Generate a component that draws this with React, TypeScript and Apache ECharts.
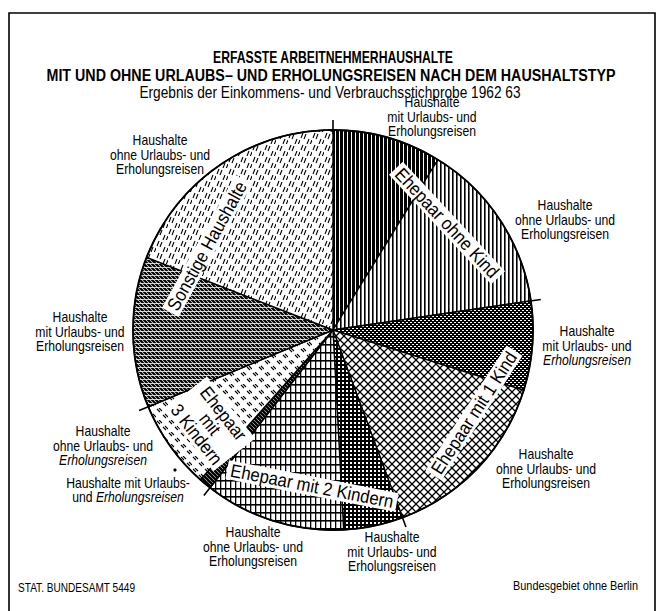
import React, { useEffect, useRef } from "react";
import * as echarts from "echarts";

// ---- data (shares in percent, clockwise from 12 o'clock) ----
const groups = [
  "Ehepaar ohne Kind",
  "Ehepaar mit 1 Kind",
  "Ehepaar mit 2 Kindern",
  "Ehepaar mit 3 Kindern",
  "Sonstige Haushalte",
];
const travel = ["mit Urlaubs- und Erholungsreisen", "ohne Urlaubs- und Erholungsreisen"];
const sliceGroup = [0, 0, 1, 1, 2, 2, 3, 3, 4, 4];
const sliceTravel = [0, 1, 0, 1, 0, 1, 0, 1, 0, 1];
const sliceValues = [8.8, 13.9, 7.2, 14.5, 4.8, 11.4, 1.0, 7.2, 12.2, 19.1];

const titleLines = [
  "ERFASSTE ARBEITNEHMERHAUSHALTE",
  "MIT UND OHNE URLAUBS\u2013 UND ERHOLUNGSREISEN NACH DEM HAUSHALTSTYP",
];
const subtitle = "Ergebnis der Einkommens- und Verbrauchsstichprobe 1962 63";
const sourceNote = "STAT. BUNDESAMT 5449";
const areaNote = "Bundesgebiet ohne Berlin";

// outer label texts per slice
const outerLabels = [
  "{n|Haushalte}\n{n|mit Urlaubs- und}\n{n|Erholungsreisen}",
  "{n|Haushalte}\n{n|ohne Urlaubs- und}\n{n|Erholungsreisen}",
  "{n|Haushalte}\n{n|mit Urlaubs- und}\n{i|Erholungsreisen}",
  "{n|Haushalte}\n{n|ohne Urlaubs- und}\n{n|Erholungsreisen}",
  "{n|Haushalte}\n{n|mit Urlaubs- und}\n{n|Erholungsreisen}",
  "{n|Haushalte}\n{n|ohne Urlaubs- und}\n{n|Erholungsreisen}",
  "{n|Haushalte mit Urlaubs-}\n{n|und }{i|Erholungsreisen}",
  "{n|Haushalte}\n{n|ohne Urlaubs- und}\n{i|Erholungsreisen}",
  "{n|Haushalte}\n{n|mit Urlaubs- und}\n{n|Erholungsreisen}",
  "{n|Haushalte}\n{n|ohne Urlaubs- und}\n{n|Erholungsreisen}",
];

// ---- layout ----
const CX = 333;
const CY = 330;
const R = 200;
const outerLabelPos: [number, number][] = [
  [432, 117], [565, 220], [587, 346], [546, 469], [392, 552],
  [253, 547], [128, 490], [103, 446], [80, 332], [160, 155],
];
// in-pie group captions: x, y, rotation(deg, ccw)
const captionPos: [number, number, number][] = [
  [447, 223, -47],
  [474, 413, 57],
  [312, 486, -11],
  [210, 424, -52],
  [207, 246, 61],
];
const captionText = [
  "Ehepaar ohne Kind",
  "Ehepaar mit 1 Kind",
  "Ehepaar mit 2 Kindern",
  "Ehepaar\nmit\n3 Kindern",
  "Sonstige Haushalte",
];

const FONT = '"Liberation Sans", Arial, sans-serif';
const NARROW = 0.84;

type Ctx = CanvasRenderingContext2D;
function makeTile(w: number, h: number, draw: (c: Ctx) => void) {
  const cv = document.createElement("canvas");
  cv.width = w;
  cv.height = h;
  const c = cv.getContext("2d") as Ctx;
  c.fillStyle = "#fff";
  c.fillRect(0, 0, w, h);
  c.fillStyle = "#000";
  c.strokeStyle = "#000";
  draw(c);
  return { image: cv, repeat: "repeat", imageWidth: w, imageHeight: h } as any;
}
function diag(c: Ctx, s: number, lw: number, dir: 1 | -1) {
  c.lineWidth = lw;
  c.beginPath();
  if (dir === 1) {
    for (const k of [-1, 0, 1]) {
      c.moveTo(-1, -1 + k * s);
      c.lineTo(s + 1, s + 1 + k * s);
    }
  } else {
    for (const k of [0, 1, 2]) {
      c.moveTo(-1, 1 + k * s);
      c.lineTo(s + 1, -s - 1 + k * s);
    }
  }
  c.stroke();
}
function seg(c: Ctx, pts: number[][], lw: number) {
  c.lineWidth = lw;
  c.beginPath();
  for (const p of pts) {
    c.moveTo(p[0], p[1]);
    c.lineTo(p[2], p[3]);
  }
  c.stroke();
}

function buildPatterns() {
  return [
    // Ehepaar ohne Kind, mit Reisen: dense dark vertical
    makeTile(4, 4, (c) => c.fillRect(0, 0, 3, 4)),
    // Ehepaar ohne Kind, ohne Reisen: vertical lines
    makeTile(4, 4, (c) => {
      c.fillRect(0, 0, 1, 4);
      c.globalAlpha = 0.6;
      c.fillRect(1, 0, 1, 4);
    }),
    // 1 Kind mit: dark crosshatch
    makeTile(4, 4, (c) => {
      c.fillRect(0, 0, 4, 4);
      c.fillStyle = "#fff";
      c.fillRect(0, 0, 2, 1);
      c.fillRect(2, 2, 2, 1);
    }),
    // 1 Kind ohne: light diagonal grid
    makeTile(8, 8, (c) => {
      diag(c, 8, 1.3, 1);
      diag(c, 8, 1.3, -1);
    }),
    // 2 Kinder mit: dense grid
    makeTile(4, 4, (c) => {
      c.fillRect(0, 0, 2, 4);
      c.fillRect(0, 0, 4, 2);
    }),
    // 2 Kinder ohne: grid
    makeTile(5, 8, (c) => {
      c.fillRect(0, 0, 1.3, 8);
      c.fillRect(0, 0, 5, 1.6);
    }),
    // 3 Kinder mit: heavy bars
    makeTile(4, 4, (c) => diag(c, 4, 2.3, 1)),
    // 3 Kinder ohne: short dashes
    makeTile(12, 12, (c) =>
      seg(c, [
        [1, 1, 4, 4],
        [3, 0, 6, 3],
        [7, 7, 10, 10],
        [9, 6, 12, 9],
      ], 1.1)
    ),
    // Sonstige mit: dense diagonal with breaks
    makeTile(4, 4, (c) => {
      diag(c, 4, 2.2, 1);
      c.fillStyle = "#fff";
      c.fillRect(0, 3, 4, 0.8);
    }),
    // Sonstige ohne: scattered dashes
    makeTile(12, 12, (c) =>
      seg(c, [
        [1, 6, 3, 1],
        [4, 7, 6, 2],
        [7, 12, 9, 7],
        [10, 13, 12, 8],
      ], 1.1)
    ),
  ];
}

function narrowText(text: string, x: number, y: number, size: number, extra: any = {}, sx = NARROW) {
  return {
    type: "text",
    z: 60,
    x,
    y,
    scaleX: sx,
    style: {
      text,
      fill: "#000",
      fontFamily: FONT,
      fontSize: size,
      align: "center",
      verticalAlign: "middle",
      ...extra,
    },
  };
}

export default function App() {
  const ref = useRef<HTMLDivElement>(null);
  useEffect(() => {
    const el = ref.current as HTMLDivElement;
    const chart = echarts.init(el, null, { renderer: "svg" });
    const patterns = buildPatterns();
    const total = sliceValues.reduce((a, b) => a + b, 0);

    // group boundary angles (deg, clockwise from top), derived from the data
    const bounds: number[] = [0];
    let acc = 0;
    sliceValues.forEach((v, i) => {
      acc += v;
      if (i < sliceValues.length - 1 && sliceGroup[i + 1] !== sliceGroup[i]) {
        bounds.push((acc / total) * 360);
      }
    });
    const pt = (deg: number, r: number) => [
      CX + r * Math.sin((deg * Math.PI) / 180),
      CY - r * Math.cos((deg * Math.PI) / 180),
    ];
    const ticks = bounds.map((d) => {
      const a = pt(d, R - 4);
      const b = pt(d, R + 10);
      return {
        type: "line",
        z: 50,
        shape: { x1: a[0], y1: a[1], x2: b[0], y2: b[1] },
        style: { stroke: "#000", lineWidth: 1.6 },
      };
    });

    const outer = outerLabels.map((t, i) =>
      narrowText(t, outerLabelPos[i][0], outerLabelPos[i][1], 14.5, {
        lineHeight: 14.5,
        rich: {
          n: { fontFamily: FONT, fontSize: 14.5, lineHeight: 14.5, fill: "#000" },
          i: { fontFamily: FONT, fontSize: 14.5, lineHeight: 14.5, fontStyle: "italic", fill: "#000" },
        },
      })
    );

    const captions = captionText.map((t, i) => ({
      type: "text",
      z: 70,
      x: captionPos[i][0],
      y: captionPos[i][1],
      scaleX: 0.9,
      rotation: (captionPos[i][2] * Math.PI) / 180,
      style: {
        text: t,
        align: "center",
        verticalAlign: "middle",
        fill: "#000",
        fontFamily: FONT,
        fontSize: 18.5,
        lineHeight: 17,
        backgroundColor: "#fff",
        padding: [2, 4, 0, 4],
      },
    }));

    const option: any = {
      animation: false,
      backgroundColor: "#fff",
      series: [
        {
          type: "pie",
          center: [CX, CY],
          radius: [0, R],
          startAngle: 90,
          clockwise: true,
          silent: true,
          label: { show: false },
          labelLine: { show: false },
          emphasis: { disabled: true },
          itemStyle: { borderColor: "#000", borderWidth: 1.4 },
          data: sliceValues.map((v, i) => ({
            name: groups[sliceGroup[i]] + " \u2013 " + travel[sliceTravel[i]],
            value: v,
            itemStyle: { color: patterns[i] },
          })),
        },
      ],
      graphic: [
        {
          type: "polyline",
          z: 40,
          shape: { points: [[9, 611], [9, 13], [655, 13], [655, 611]] },
          style: { stroke: "#000", lineWidth: 1.6, fill: "none" },
        },
        {
          type: "circle",
          z: 45,
          shape: { cx: CX, cy: CY, r: R },
          style: { stroke: "#000", lineWidth: 1.8, fill: "none" },
        },
        ...ticks,
        narrowText(titleLines[0], 333, 57, 16.5, { fontWeight: "bold" }, 0.74),
        narrowText(titleLines[1], 331, 75, 17, { fontWeight: "bold" }),
        narrowText(subtitle, 330, 92, 16.3),
        ...outer,
        ...captions,
        {
          type: "circle",
          z: 60,
          shape: { cx: 175, cy: 470, r: 1.6 },
          style: { fill: "#000" },
        },
        narrowText(sourceNote, 18, 588, 12, { align: "left" }),
        narrowText(areaNote, 638, 586, 13, { align: "right" }),
      ],
    };
    chart.setOption(option);
    return () => chart.dispose();
  }, []);
  return (
    <div
      ref={ref}
      style={{ position: "fixed", left: 0, top: 0, width: 661, height: 611, background: "#fff" }}
    />
  );
}
